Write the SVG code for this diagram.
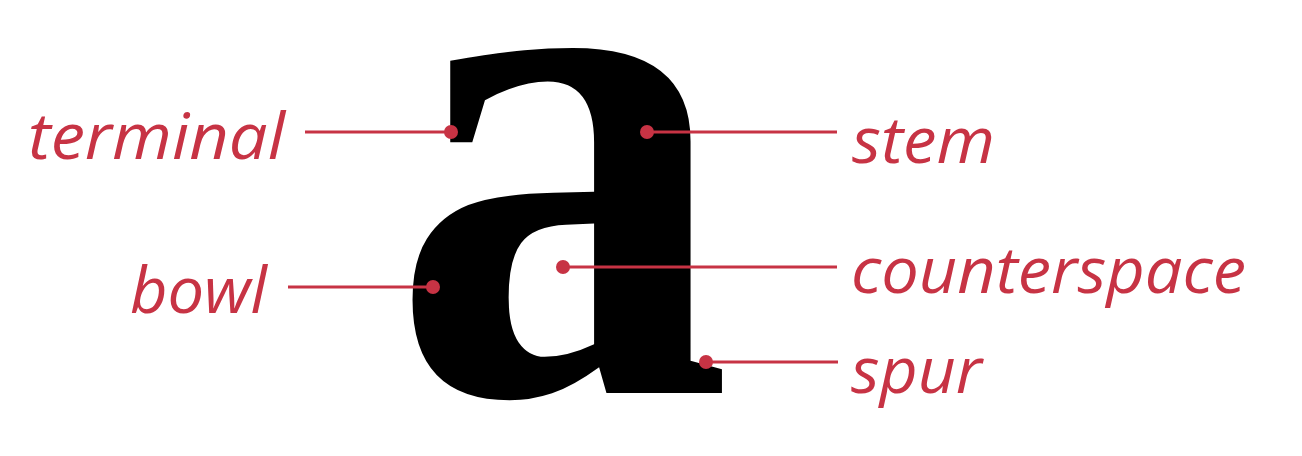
<svg xmlns="http://www.w3.org/2000/svg" width="1302" height="456" viewBox="0 0 1302 456">
<style>
.lbl{font-family:"Open Sans","Lato","DejaVu Sans",sans-serif;font-style:italic;font-size:64px;fill:#c73344}
.glyph{font-family:"Liberation Serif","Times New Roman",serif;font-weight:bold;font-size:735px;fill:#000}
.ln{stroke:#c73344;stroke-width:3;fill:none}
.dot{fill:#c73344}
</style>
<rect width="1302" height="456" fill="#ffffff"/>
<g id="letter-a">
<text class="glyph" transform="translate(390.5,393) scale(0.93,1)" x="0" y="0">a</text>
</g>
<g id="label-terminal"><text class="lbl" x="28" y="159" textLength="257" lengthAdjust="spacingAndGlyphs">terminal</text></g>
<g id="label-bowl"><text class="lbl" x="130" y="313" textLength="137" lengthAdjust="spacingAndGlyphs">bowl</text></g>
<g id="label-stem"><text class="lbl" x="852" y="163" textLength="143" lengthAdjust="spacingAndGlyphs">stem</text></g>
<g id="label-counterspace"><text class="lbl" x="851" y="293" textLength="395" lengthAdjust="spacingAndGlyphs">counterspace</text></g>
<g id="label-spur"><text class="lbl" x="851" y="393" textLength="131" lengthAdjust="spacingAndGlyphs">spur</text></g>
<g id="connectors">
<line class="ln" x1="305" y1="132" x2="451" y2="132"/>
<circle class="dot" cx="451" cy="132" r="7"/>
<line class="ln" x1="647" y1="132" x2="837" y2="132"/>
<circle class="dot" cx="647" cy="132" r="7"/>
<line class="ln" x1="288" y1="287" x2="433" y2="287"/>
<circle class="dot" cx="433" cy="287" r="7"/>
<line class="ln" x1="563" y1="267" x2="837" y2="267"/>
<circle class="dot" cx="563" cy="267" r="7"/>
<line class="ln" x1="706" y1="362" x2="838" y2="362"/>
<circle class="dot" cx="706" cy="362" r="7"/>
</g>
</svg>
